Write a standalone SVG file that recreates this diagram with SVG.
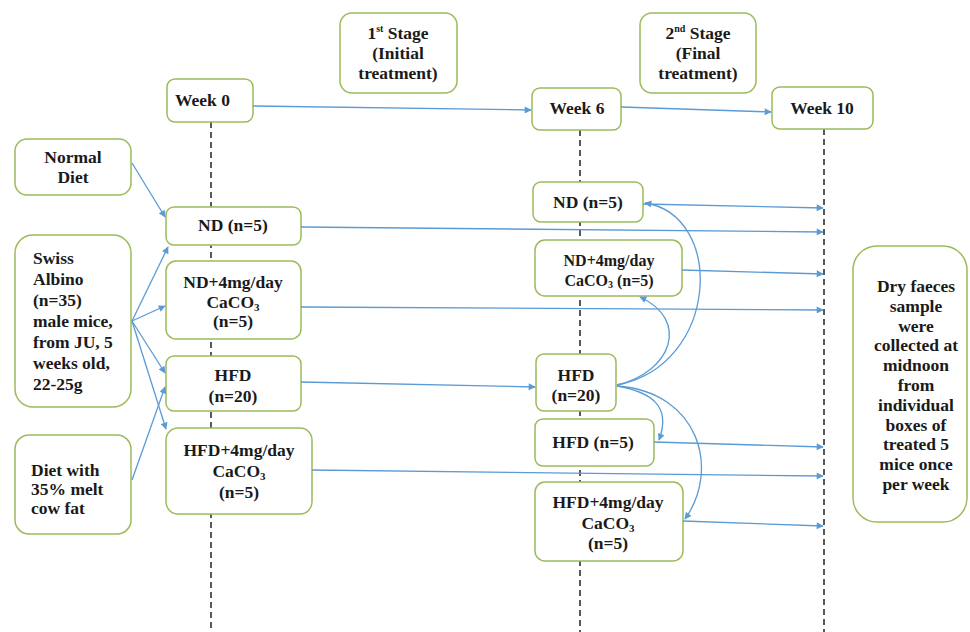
<svg xmlns="http://www.w3.org/2000/svg" width="970" height="632" viewBox="0 0 970 632">
<defs>
<style>
.box{fill:#fff;stroke:#9bbb59;stroke-width:1.5}
.t{font-weight:bold;font-size:17.5px;fill:#1a1a1a}
.c{text-anchor:middle}
.s{font-size:16px}
.con{stroke:#5b9bd5;stroke-width:1.3;fill:none;marker-end:url(#ah)}
.dash{stroke:#000;stroke-width:1.3;stroke-dasharray:6 4;fill:none}
</style>
<marker id="ah" viewBox="0 0 10 10" refX="9" refY="5" markerWidth="8" markerHeight="7" markerUnits="userSpaceOnUse" orient="auto">
<path d="M0,0 L10,5 L0,10 z" fill="#5b9bd5"/>
</marker>
</defs>
<rect width="970" height="632" fill="#fff"/>
<g id="timelines">
<line class="dash" x1="211" y1="122" x2="211" y2="632"/>
<line class="dash" x1="580" y1="130" x2="580" y2="632"/>
<line class="dash" x1="824" y1="129" x2="824" y2="632"/>
</g>
<g font-family="Liberation Serif, Times New Roman, serif">
<g id="stage1"><rect class="box" x="340" y="13" width="117" height="80" rx="12"/>
<text class="t c" x="398" y="39">1<tspan font-size="10" dy="-7">st</tspan><tspan dy="7"> Stage</tspan></text>
<text class="t c" x="398" y="59">(Initial</text><text class="t c" x="398" y="79">treatment)</text></g>
<g id="stage2"><rect class="box" x="640" y="13" width="116" height="80" rx="12"/>
<text class="t c" x="698" y="39">2<tspan font-size="10" dy="-7">nd</tspan><tspan dy="7"> Stage</tspan></text>
<text class="t c" x="698" y="59">(Final</text><text class="t c" x="698" y="79">treatment)</text></g>
<g id="week0"><rect class="box" x="167" y="79" width="86" height="43" rx="8"/><text class="t" x="175" y="106">Week 0</text></g>
<g id="week6"><rect class="box" x="532" y="88" width="89" height="42" rx="8"/><text class="t c" x="577" y="114">Week 6</text></g>
<g id="week10"><rect class="box" x="772" y="87" width="101" height="42" rx="8"/><text class="t c" x="822" y="114">Week 10</text></g>
<g id="normal-diet"><rect class="box" x="15" y="139" width="116" height="56" rx="12"/>
<text class="t c" x="73" y="163">Normal</text><text class="t c" x="73" y="183">Diet</text></g>
<g id="swiss"><rect class="box" x="15" y="235" width="116" height="172" rx="18"/>
<text class="t" x="33" y="264">Swiss</text><text class="t" x="33" y="285">Albino</text><text class="t" x="33" y="306">(n=35)</text><text class="t" x="33" y="327">male mice,</text><text class="t" x="33" y="348">from JU, 5</text><text class="t" x="33" y="369">weeks old,</text><text class="t" x="33" y="390">22-25g</text></g>
<g id="fat-diet"><rect class="box" x="15" y="435" width="116" height="99" rx="14"/>
<text class="t" x="31" y="476">Diet with</text><text class="t" x="31" y="495">35% melt</text><text class="t" x="31" y="514">cow fat</text></g>
<g id="nd-left"><rect class="box" x="166" y="207" width="135" height="38" rx="8"/><text class="t c" x="233" y="231">ND (n=5)</text></g>
<g id="ndca-left"><rect class="box" x="166" y="261" width="135" height="78" rx="10"/>
<text class="t c" x="233" y="288">ND+4mg/day</text><text class="t c" x="233" y="308">CaCO<tspan font-size="11" dy="3">3</tspan></text><text class="t c" x="233" y="327">(n=5)</text></g>
<g id="hfd-left"><rect class="box" x="166" y="356" width="135" height="55" rx="8"/>
<text class="t c" x="233" y="381">HFD</text><text class="t c" x="233" y="402">(n=20)</text></g>
<g id="hfdca-left"><rect class="box" x="166" y="428" width="146" height="86" rx="12"/>
<text class="t c" x="239" y="456">HFD+4mg/day</text><text class="t c" x="239" y="477">CaCO<tspan font-size="11" dy="3">3</tspan></text><text class="t c" x="239" y="498">(n=5)</text></g>
<g id="nd-right"><rect class="box" x="533" y="182" width="110" height="40" rx="8"/><text class="t c" x="588" y="208">ND (n=5)</text></g>
<g id="ndca-right"><rect class="box" x="535" y="240" width="147" height="56" rx="10"/>
<text class="t c s" x="609" y="266">ND+4mg/day</text><text class="t c s" x="609" y="286">CaCO<tspan font-size="10" dy="2">3</tspan><tspan dy="-2"> (n=5)</tspan></text></g>
<g id="hfd-right"><rect class="box" x="536" y="354" width="80" height="57" rx="8"/>
<text class="t c" x="576" y="381">HFD</text><text class="t c" x="576" y="401">(n=20)</text></g>
<g id="hfd5-right"><rect class="box" x="535" y="419" width="119" height="47" rx="8"/><text class="t c" x="593" y="448">HFD (n=5)</text></g>
<g id="hfdca-right"><rect class="box" x="535" y="482" width="148" height="79" rx="10"/>
<text class="t c" x="608" y="508">HFD+4mg/day</text><text class="t c" x="608" y="529">CaCO<tspan font-size="11" dy="3">3</tspan></text><text class="t c" x="608" y="549">(n=5)</text></g>
<g id="faeces"><rect class="box" x="853" y="246" width="114" height="276" rx="24"/>
<text class="t c" x="916" y="292">Dry faeces</text><text class="t c" x="916" y="312">sample</text><text class="t c" x="916" y="332">were</text><text class="t c" x="916" y="351">collected at</text><text class="t c" x="916" y="371">midnoon</text><text class="t c" x="916" y="391">from</text><text class="t c" x="916" y="411">individual</text><text class="t c" x="916" y="431">boxes of</text><text class="t c" x="916" y="450">treated 5</text><text class="t c" x="916" y="470">mice once</text><text class="t c" x="916" y="490">per week</text></g>
</g>
<g id="connectors">
<path class="con" d="M253,106 L531,110"/>
<path class="con" d="M621,107 L771,112"/>
<path class="con" d="M132,163 L165,217"/>
<path class="con" d="M132,321 L168,247"/>
<path class="con" d="M132,321 L165,306"/>
<path class="con" d="M132,321 L165,373"/>
<path class="con" d="M132,321 L166,429"/>
<path class="con" d="M132,480 L165,387"/>
<path class="con" d="M301,227 L823,232"/>
<path class="con" d="M643,204 L823,208"/>
<path class="con" d="M682,270 L823,274"/>
<path class="con" d="M301,307 L823,310"/>
<path class="con" d="M301,382 L535,387"/>
<path class="con" d="M312,470 L823,476"/>
<path class="con" d="M654,442 L823,447"/>
<path class="con" d="M683,521 L823,526"/>
<path class="con" d="M617,385 C720,365 725,215 645,203"/>
<path class="con" d="M617,385 C672,372 690,320 640,297"/>
<path class="con" d="M617,386 C650,392 672,405 659,440"/>
<path class="con" d="M617,386 C700,392 720,470 685,519"/>
</g>
</svg>
